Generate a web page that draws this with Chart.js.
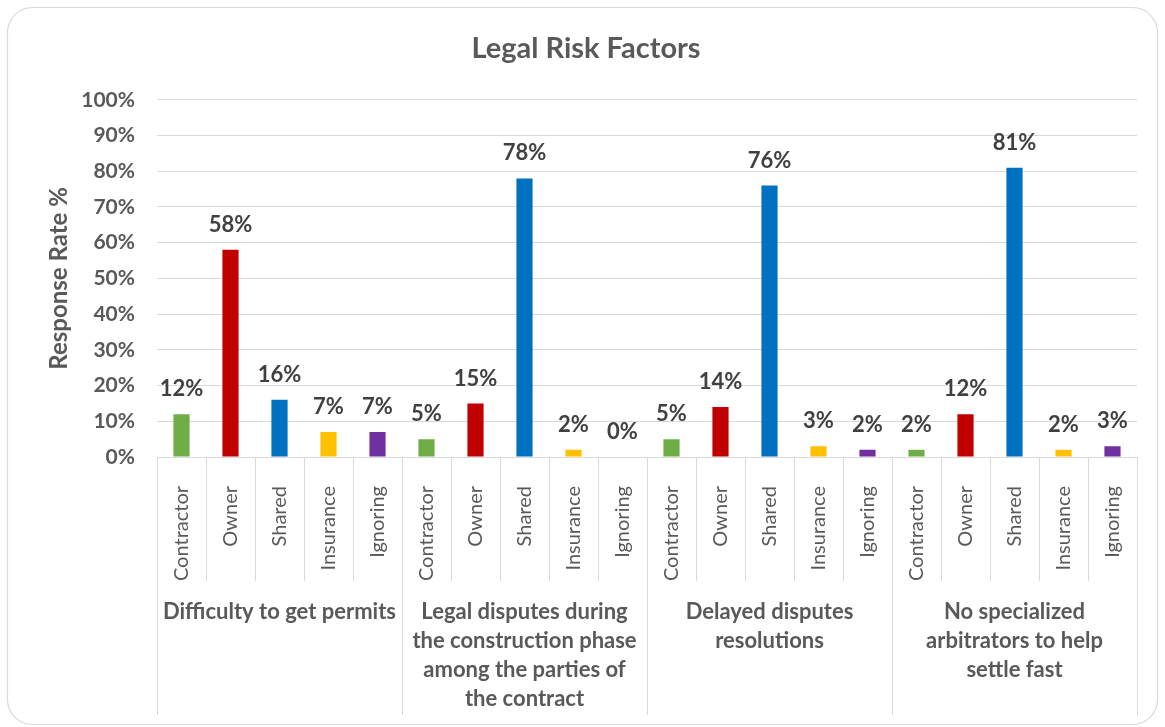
<!DOCTYPE html>
<html>
<head>
<meta charset="utf-8">
<script src="https://cdn.jsdelivr.net/npm/chart.js@4/dist/chart.umd.min.js"></script>
<style>
  html, body { margin: 0; padding: 0; background: #ffffff; }
  #wrap { width: 1165px; height: 727px; position: relative; }
</style>
</head>
<body>
<div id="wrap"><canvas id="chart" width="1165" height="727"></canvas></div>
<script>
// Legal risk factors: who bears each risk, as a share of responses
const groups = [
  ["Difficulty to get permits"],
  ["Legal disputes during", "the construction phase", "among the parties of", "the contract"],
  ["Delayed disputes", "resolutions"],
  ["No specialized", "arbitrators to help", "settle fast"]
];
const parties = ["Contractor", "Owner", "Shared", "Insurance", "Ignoring"];
const partyColors = ["#70ad47", "#c00000", "#0070c0", "#ffc000", "#7030a0"];

const permitsValues    = [12, 58, 16, 7, 7];
const disputesValues   = [5, 15, 78, 2, 0];
const delayedValues    = [5, 14, 76, 3, 2];
const arbitratorValues = [2, 12, 81, 2, 3];

const yTicks = [0, 10, 20, 30, 40, 50, 60, 70, 80, 90, 100];

// flatten the groups into one category axis
const labels = [];
const values = [];
const colors = [];
[permitsValues, disputesValues, delayedValues, arbitratorValues].forEach(arr => {
  arr.forEach((v, i) => {
    labels.push(parties[i]);
    values.push(v);
    colors.push(partyColors[i]);
  });
});

const FONT = "Lato, 'Open Sans', sans-serif";
const GRID = "#d9d9d9";
const TEXT = "#595959";

// rounded frame around the whole chart
const framePlugin = {
  id: "frame",
  beforeDraw(chart) {
    const ctx = chart.ctx;
    ctx.save();
    ctx.fillStyle = "#ffffff";
    ctx.fillRect(0, 0, chart.width, chart.height);
    ctx.beginPath();
    ctx.roundRect(7.5, 7.5, chart.width - 15, chart.height - 10, 25);
    ctx.strokeStyle = GRID;
    ctx.lineWidth = 1.2;
    ctx.stroke();
    ctx.restore();
  }
};

// category separators and group captions under the axis
const groupAxisPlugin = {
  id: "groupAxis",
  afterDraw(chart) {
    const ctx = chart.ctx;
    const x = chart.scales.x;
    const area = chart.chartArea;
    const n = labels.length;
    const step = n > 1 ? x.getPixelForValue(1) - x.getPixelForValue(0) : x.width;
    const edge = i => x.getPixelForValue(i) - step / 2;
    const top = area.bottom;
    ctx.save();
    ctx.strokeStyle = GRID;
    ctx.lineWidth = 1;
    for (let i = 0; i <= n; i++) {
      const px = Math.round(edge(i)) + 0.5;
      const isGroup = i % parties.length === 0;
      ctx.beginPath();
      ctx.moveTo(px, top);
      ctx.lineTo(px, isGroup ? top + 258 : top + 124);
      ctx.stroke();
    }
    ctx.fillStyle = TEXT;
    ctx.font = "bold 22px " + FONT;
    ctx.textAlign = "center";
    ctx.textBaseline = "middle";
    groups.forEach((lines, g) => {
      const cx = (edge(g * parties.length) + edge((g + 1) * parties.length)) / 2;
      lines.forEach((line, k) => {
        ctx.fillText(line, cx, top + 155 + k * 29);
      });
    });
    ctx.restore();
  }
};

// percentage labels above each bar
const valueLabelPlugin = {
  id: "valueLabels",
  afterDatasetsDraw(chart) {
    const ctx = chart.ctx;
    const meta = chart.getDatasetMeta(0);
    ctx.save();
    ctx.fillStyle = "#404040";
    ctx.font = "bold 22px " + FONT;
    ctx.textAlign = "center";
    ctx.textBaseline = "middle";
    meta.data.forEach((bar, i) => {
      ctx.fillText(values[i] + "%", bar.x, bar.y - 25);
    });
    ctx.restore();
  }
};

new Chart(document.getElementById("chart"), {
  type: "bar",
  data: {
    labels: labels,
    datasets: [{
      data: values,
      backgroundColor: colors,
      borderWidth: 0,
      categoryPercentage: 1,
      barPercentage: 0.33
    }]
  },
  options: {
    responsive: false,
    animation: false,
    devicePixelRatio: 1,
    layout: { padding: { left: 35, right: 28, top: 0, bottom: 0 } },
    plugins: {
      legend: { display: false },
      tooltip: { enabled: false },
      title: {
        display: true,
        text: "Legal Risk Factors",
        color: TEXT,
        font: { family: FONT, size: 29, weight: "bold", lineHeight: 1.2 },
        padding: { top: 31, bottom: 34 }
      }
    },
    scales: {
      x: {
        grid: { display: false },
        border: { display: false },
        ticks: {
          autoSkip: false,
          minRotation: 90,
          maxRotation: 90,
          padding: 21,
          color: TEXT,
          font: { family: FONT, size: 20 }
        },
        afterFit(scale) { scale.height = 270; }
      },
      y: {
        min: 0,
        max: 100,
        afterBuildTicks(scale) { scale.ticks = yTicks.map(v => ({ value: v })); },
        grid: { color: GRID, lineWidth: 1, drawTicks: false },
        border: { display: false },
        ticks: {
          padding: 22,
          color: TEXT,
          font: { family: FONT, size: 21, weight: "bold" },
          callback: v => v + "%"
        },
        title: {
          display: true,
          text: "Response Rate %",
          color: TEXT,
          font: { family: FONT, size: 24, weight: "bold", lineHeight: 1.2 },
          padding: { top: 10, bottom: 0 }
        },
        afterFit(scale) { scale.width = 122; }
      }
    }
  },
  plugins: [framePlugin, groupAxisPlugin, valueLabelPlugin]
});
</script>
</body>
</html>
